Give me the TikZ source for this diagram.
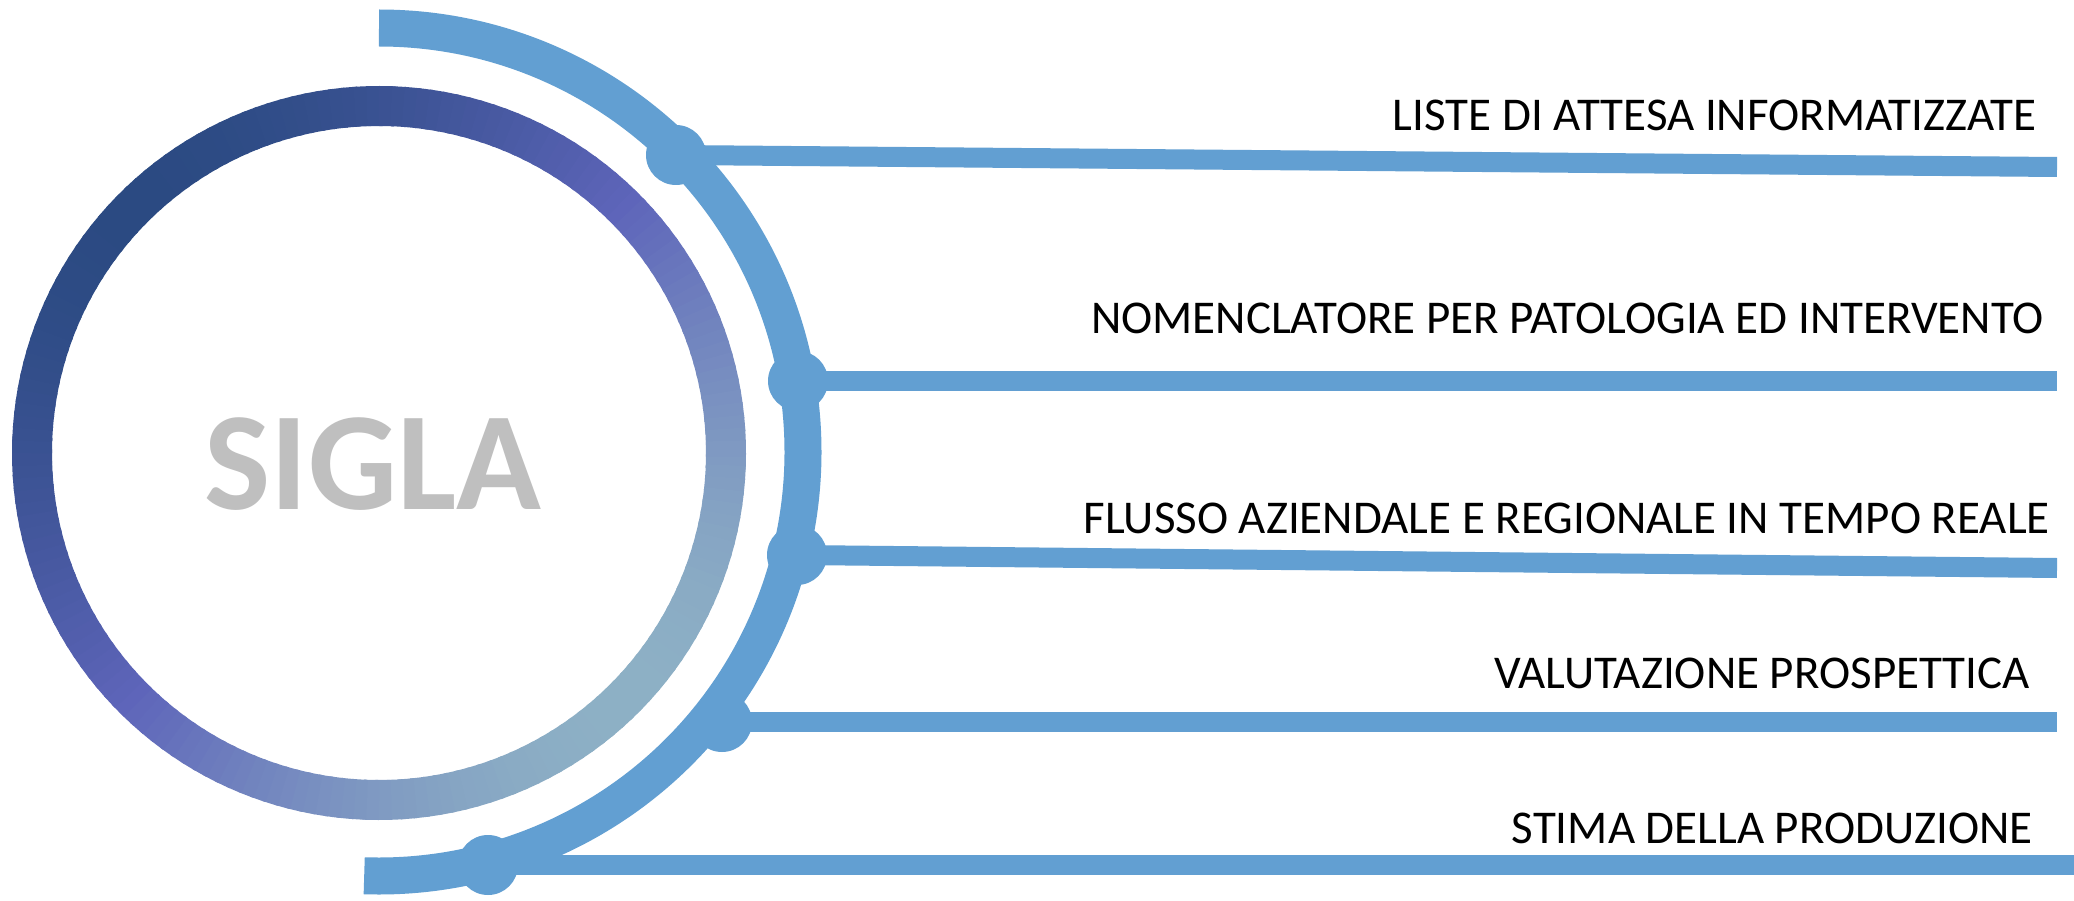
\documentclass[tikz,border=0pt]{standalone}
\usepackage{fontspec}
\setmainfont{Carlito}
\usetikzlibrary{positioning, calc}
\definecolor{arcblue}{HTML}{629FD2}
\definecolor{ringnavy}{HTML}{2B4A82}
\definecolor{ringviolet}{HTML}{5E65BA}
\definecolor{ringmist}{HTML}{8DB0C5}
\definecolor{siglagrey}{HTML}{BFBFBF}

\begin{document}
\begin{tikzpicture}[x=1pt, y=-1pt,
    item/.style={anchor=base east, inner sep=0pt, font=\fontsize{47}{47}\selectfont},
    branch/.style={arcblue, line width=20pt},
    knot/.style={arcblue}]
  % Canvas
  \fill[white] (0,0) rectangle (2074,901);
  \useasboundingbox (0,0) rectangle (2074,901);

  % Gradient ring, navy top left -> violet -> mist bottom right
  \coordinate (centre) at (379,453);
  \foreach \a in {0,2,...,358} {
    \pgfmathsetmacro\pn{100*max(0,cos(\a+1-225))}
    \pgfmathsetmacro\pm{100*max(0,-cos(\a+1-225))}
    \colorlet{segA}{ringnavy!\pn!ringviolet}
    \colorlet{segcol}{ringmist!\pm!segA}
    \draw[segcol, line width=40pt] ($(centre)+(\a:347)$) arc[start angle=\a, end angle=\a+2.6, radius=347];
  }
  \node[siglagrey, anchor=base, inner sep=0pt, font=\fontsize{140}{140}\selectfont\bfseries] (sigla) at (373,509) {SIGLA};

  % Outer arc
  \draw[arcblue, line width=37pt] (379,28) arc[start angle=-90, end angle=92, radius=424];

  % Points on the arc and ends at the right edge
  \foreach \n/\px/\py/\qx/\qy in {1/676/155/2057/167, 2/798/381/2057/381, 3/797/555/2057/568, 4/722/722/2057/722, 5/488/865/2074/865} {
    \coordinate (dot\n) at (\px,\py);
    \coordinate (end\n) at (\qx,\qy);
  }
  \foreach \n in {1,...,5} {
    \draw[branch] (dot\n) -- (end\n);
    \fill[knot] (dot\n) circle[radius=30];
  }

  % Labels
  \foreach \n/\x/\y/\label in {1/2037/131/LISTE DI ATTESA INFORMATIZZATE,
      2/2044/333/NOMENCLATORE PER PATOLOGIA ED INTERVENTO,
      3/2050/533/FLUSSO AZIENDALE E REGIONALE IN TEMPO REALE,
      4/2030/688/VALUTAZIONE PROSPETTICA,
      5/2033/843/STIMA DELLA PRODUZIONE} {
    \node[item] (label\n) at (\x,\y) {\label};
  }
\end{tikzpicture}
\end{document}
